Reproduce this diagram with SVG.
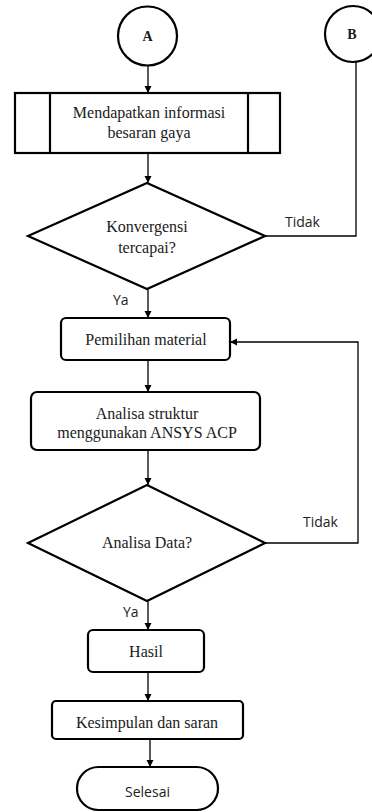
<svg xmlns="http://www.w3.org/2000/svg" width="372" height="812" viewBox="0 0 372 812">
<style>
.shape{fill:#fff;stroke:#000;stroke-width:2.2}
.conn{fill:none;stroke:#000;stroke-width:1.3}
.serif{font-family:"Liberation Serif","Times New Roman",serif;font-size:16px;fill:#1a1a1a;text-anchor:middle}
.bold{font-weight:bold;font-size:14px}
.sans{font-family:"Open Sans","Noto Sans",sans-serif;font-size:14px;fill:#222}
</style>
<defs>
<marker id="ah" markerWidth="8" markerHeight="8" refX="7" refY="4" orient="auto" markerUnits="userSpaceOnUse">
<path d="M0,0.5 L7,4 L0,7.5 Z" fill="#000"/>
</marker>
</defs>
<rect width="372" height="812" fill="#fff"/>
<g id="connectors">
<line class="conn" x1="148" y1="66" x2="148" y2="93" marker-end="url(#ah)"/>
<line class="conn" x1="148" y1="153" x2="148" y2="183" marker-end="url(#ah)"/>
<polyline class="conn" points="356,62 356,236 265,236"/>
<line class="conn" x1="148" y1="289" x2="148" y2="318" marker-end="url(#ah)"/>
<line class="conn" x1="148" y1="360" x2="148" y2="392" marker-end="url(#ah)"/>
<line class="conn" x1="148" y1="450" x2="148" y2="485" marker-end="url(#ah)"/>
<polyline class="conn" points="265,543 358,543 358,342 230,342" marker-end="url(#ah)"/>
<line class="conn" x1="148" y1="601" x2="148" y2="630" marker-end="url(#ah)"/>
<line class="conn" x1="148" y1="672" x2="148" y2="701" marker-end="url(#ah)"/>
<line class="conn" x1="150" y1="739" x2="150" y2="767" marker-end="url(#ah)"/>
<text class="sans" x="285" y="227">Tidak</text>
<text class="sans" x="113" y="305">Ya</text>
<text class="sans" x="303" y="527">Tidak</text>
<text class="sans" x="123" y="617">Ya</text>
</g>
<g id="nodeA">
<circle class="shape" cx="147.5" cy="36" r="29.5"/>
<text class="serif bold" x="147.5" y="41">A</text>
</g>
<g id="nodeB">
<circle class="shape" cx="353" cy="34" r="28"/>
<text class="serif bold" x="352" y="39">B</text>
</g>
<g id="info">
<rect class="shape" x="15" y="93" width="265" height="60"/>
<line class="shape" x1="50" y1="93" x2="50" y2="153"/>
<line class="shape" x1="248" y1="93" x2="248" y2="153"/>
<text class="serif" x="149" y="118">Mendapatkan informasi</text>
<text class="serif" x="149" y="138">besaran gaya</text>
</g>
<g id="konvergensi">
<polygon class="shape" points="147,183 265,236 147,289 28,236"/>
<text class="serif" x="147" y="232">Konvergensi</text>
<text class="serif" x="147" y="253">tercapai?</text>
</g>
<g id="pemilihan">
<rect class="shape" x="61" y="318" width="169" height="42" rx="5"/>
<text class="serif" x="146" y="345">Pemilihan material</text>
</g>
<g id="analisa">
<rect class="shape" x="31" y="392" width="229" height="58" rx="6"/>
<text class="serif" x="147" y="419">Analisa struktur</text>
<text class="serif" x="147" y="438">menggunakan ANSYS ACP</text>
</g>
<g id="analisaData">
<polygon class="shape" points="147,485 265,543 147,601 28,543"/>
<text class="serif" x="147" y="548">Analisa Data?</text>
</g>
<g id="hasil">
<rect class="shape" x="88" y="630" width="116" height="42" rx="5"/>
<text class="serif" x="146" y="657">Hasil</text>
</g>
<g id="kesimpulan">
<rect class="shape" x="52" y="701" width="191" height="38" rx="4"/>
<text class="serif" x="147" y="728">Kesimpulan dan saran</text>
</g>
<g id="selesai">
<rect class="shape" x="77" y="767" width="141" height="43" rx="21.5"/>
<text class="sans" x="147.5" y="797" text-anchor="middle">Selesai</text>
</g>
</svg>
